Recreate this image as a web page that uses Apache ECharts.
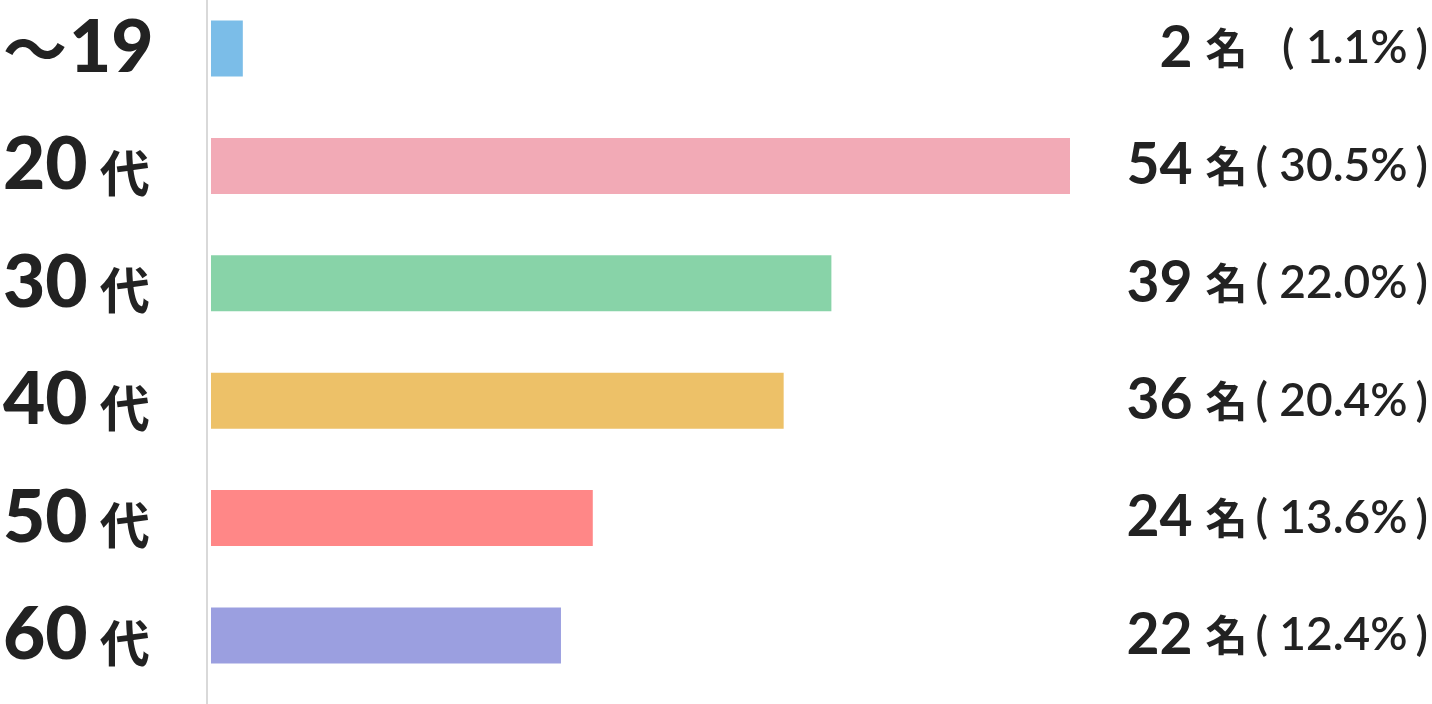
<!DOCTYPE html>
<html><head><meta charset="utf-8">
<script src="https://cdn.jsdelivr.net/npm/echarts@6/dist/echarts.min.js"></script>
<style>html,body{margin:0;padding:0;background:#fff}#c{width:1432px;height:704px}</style>
</head><body><div id="c"></div>
<script>
const ageNums = ['〜19', '20', '30', '40', '50', '60'];
const ageSuffix = ['', '代', '代', '代', '代', '代'];
const counts = [2, 54, 39, 36, 24, 22];
const percents = ['1.1', '30.5', '22.0', '20.4', '13.6', '12.4'];
const colors = ['#7bbde8', '#f2aab6', '#88d3a8', '#edc168', '#ff8787', '#9b9fe0'];

const chart = echarts.init(document.getElementById('c'), null, {renderer: 'canvas'});
const cats = ageNums.map((a, i) => a + ageSuffix[i]);
chart.setOption({
  animation: false,
  grid: {left: 210, right: 362, top: 48.5, bottom: 68.5},
  xAxis: {type: 'value', min: 0, max: 54, show: false},
  yAxis: [{
    type: 'category', data: cats, inverse: true, position: 'left', boundaryGap: false,
    axisLine: {show: false}, axisTick: {show: false}, splitLine: {show: false},
    axisLabel: {
      align: 'left', margin: 208,
      formatter: (v, i) => i === 0 ? '{t|〜}{a|19}' : '{a|' + ageNums[i] + '}{b|' + ageSuffix[i] + '}',
      rich: {
        t: {fontFamily: 'Noto Sans CJK JP', fontWeight: 700, fontSize: 64, color: '#222', padding: [0, 2, 0, 0]},
        a: {fontFamily: 'Lato', fontWeight: 900, fontSize: 73, color: '#222'},
        b: {fontFamily: 'Noto Sans CJK JP', fontWeight: 700, fontSize: 50, color: '#222', padding: [14, 0, 0, 12]}
      }
    }
  }, {
    type: 'category', data: cats, inverse: true, position: 'right', boundaryGap: false,
    axisLine: {show: false}, axisTick: {show: false}, splitLine: {show: false},
    axisLabel: {
      align: 'right', margin: 358,
      formatter: (v, i) => '{n|' + counts[i] + '}{m|名}{q|( ' + percents[i] + '%}{r|)}',
      rich: {
        n: {fontFamily: 'Lato', fontWeight: 700, fontSize: 57, color: '#222', padding: [0, 13, 0, 0]},
        m: {fontFamily: 'Noto Sans CJK JP', fontWeight: 700, fontSize: 42, color: '#222'},
        q: {fontFamily: 'Lato', fontWeight: 600, fontSize: 46, color: '#222', width: 160, align: 'right'},
        r: {fontFamily: 'Lato', fontWeight: 600, fontSize: 46, color: '#222', padding: [0, 0, 0, 8]}
      }
    }
  }],
  graphic: [{type: 'rect', shape: {x: 206, y: 0, width: 2, height: 704}, style: {fill: '#d9d9d9'}, z: 0}],
  series: [{
    type: 'bar', barWidth: 56,
    data: counts.map((c, i) => ({value: c, itemStyle: {color: colors[i]}}))
  }]
});
</script></body></html>
